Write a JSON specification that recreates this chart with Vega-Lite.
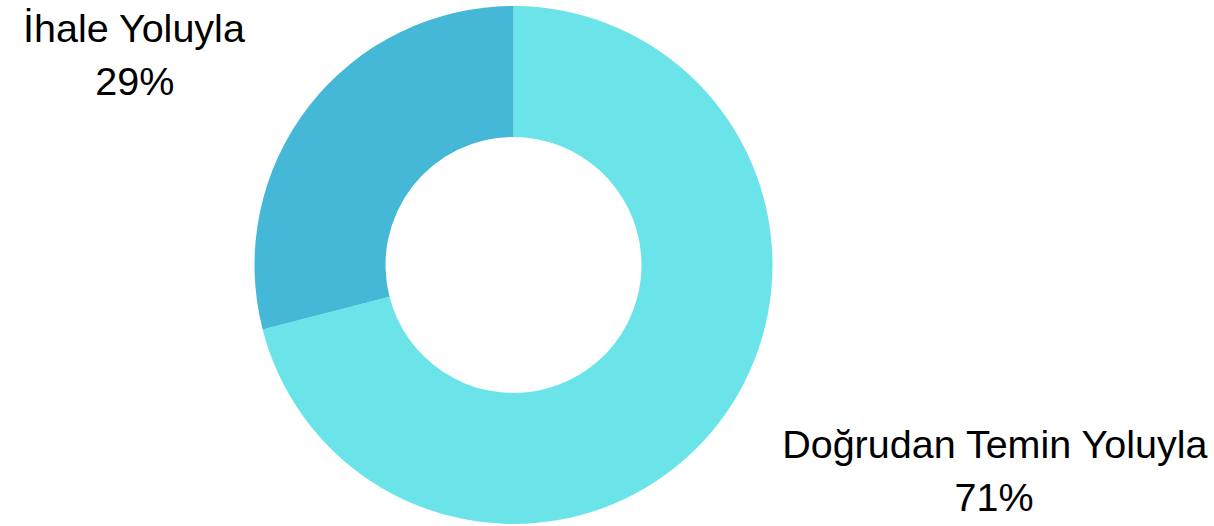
{
  "$schema": "https://vega.github.io/schema/vega-lite/v6.json",
  "width": 1027,
  "height": 522,
  "padding": {"left": 0, "top": 4, "right": 0, "bottom": 0},
  "background": "white",
  "view": {"stroke": null},
  "data": {
    "values": [
      {"label": "Doğrudan Temin Yoluyla", "value": 0.71},
      {"label": "İhale Yoluyla", "value": 0.29}
    ]
  },
  "encoding": {
    "theta": {"field": "value", "type": "quantitative", "stack": true},
    "order": {"field": "value", "type": "quantitative", "sort": "descending"}
  },
  "layer": [
    {
      "mark": {"type": "arc", "outerRadius": 259, "innerRadius": 128},
      "encoding": {
        "color": {
          "field": "label",
          "type": "nominal",
          "scale": {
            "domain": ["Doğrudan Temin Yoluyla", "İhale Yoluyla"],
            "range": ["#6ae4e8", "#44b8d6"]
          },
          "legend": null
        }
      }
    },
    {
      "mark": {
        "type": "text",
        "radius": 340,
        "dy": -15,
        "baseline": "alphabetic",
        "font": "Liberation Sans",
        "fontSize": 39.5,
        "color": "#000000",
        "align": {"expr": "datum.value > 0.5 ? 'left' : 'right'"}
      },
      "encoding": {
        "text": {"field": "label", "type": "nominal"},
        "detail": {"field": "label", "type": "nominal"}
      }
    },
    {
      "mark": {
        "type": "text",
        "radius": 340,
        "dy": 38,
        "baseline": "alphabetic",
        "align": "center",
        "font": "Liberation Sans",
        "fontSize": 39.5,
        "color": "#000000",
        "dx": {"expr": "datum.value > 0.5 ? 212 : -110"}
      },
      "encoding": {
        "text": {"field": "value", "type": "quantitative", "format": ".0%"},
        "detail": {"field": "label", "type": "nominal"}
      }
    }
  ]
}
